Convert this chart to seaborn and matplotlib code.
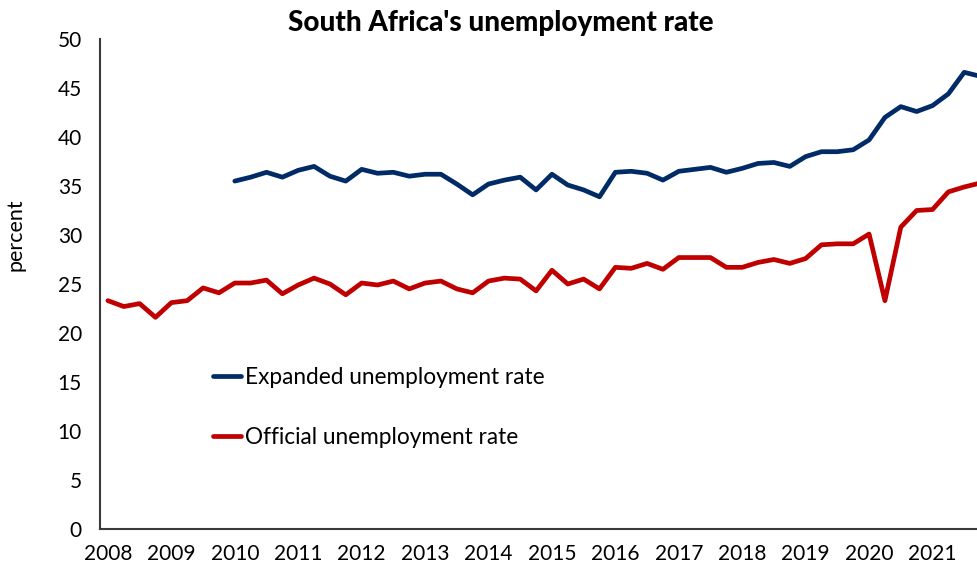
import matplotlib
matplotlib.use("Agg")
import matplotlib.pyplot as plt
import numpy as np
import pandas as pd
import seaborn as sns

# Quarterly labour-force survey rates, 2008Q1 - 2021Q4
years = list(range(2008, 2022))
quarters = [f"{y}Q{q}" for y in years for q in range(1, 5)]

official = [
    23.3, 22.7, 23.0, 21.6,
    23.1, 23.3, 24.6, 24.1,
    25.1, 25.1, 25.4, 24.0,
    24.9, 25.6, 25.0, 23.9,
    25.1, 24.9, 25.3, 24.5,
    25.1, 25.3, 24.5, 24.1,
    25.3, 25.6, 25.5, 24.3,
    26.4, 25.0, 25.5, 24.5,
    26.7, 26.6, 27.1, 26.5,
    27.7, 27.7, 27.7, 26.7,
    26.7, 27.2, 27.5, 27.1,
    27.6, 29.0, 29.1, 29.1,
    30.1, 23.3, 30.8, 32.5,
    32.6, 34.4, 34.9, 35.3,
]

# Expanded definition is only published from 2010Q1
expanded = [np.nan] * 8 + [
    35.5, 35.9, 36.4, 35.9,
    36.6, 37.0, 36.0, 35.5,
    36.7, 36.3, 36.4, 36.0,
    36.2, 36.2, 35.2, 34.1,
    35.2, 35.6, 35.9, 34.6,
    36.2, 35.1, 34.6, 33.9,
    36.4, 36.5, 36.3, 35.6,
    36.5, 36.7, 36.9, 36.4,
    36.8, 37.3, 37.4, 37.0,
    38.0, 38.5, 38.5, 38.7,
    39.7, 42.0, 43.1, 42.6,
    43.2, 44.4, 46.6, 46.2,
]

series_names = ["Expanded unemployment rate", "Official unemployment rate"]
colors = {"Expanded unemployment rate": "#002B66", "Official unemployment rate": "#C00000"}

df = pd.DataFrame({
    "quarter": quarters,
    "idx": np.arange(len(quarters)),
    series_names[0]: expanded,
    series_names[1]: official,
})
long = df.melt(id_vars=["quarter", "idx"], value_vars=series_names,
               var_name="series", value_name="rate").dropna()

sns.set_theme(style="white")
plt.rcParams["font.family"] = ["Lato", "DejaVu Sans"]
plt.rcParams["text.color"] = "black"
plt.rcParams["axes.labelcolor"] = "black"

fig = plt.figure(figsize=(9.78, 5.72), dpi=100)
ax = fig.add_axes([100 / 978, 43 / 572, 888 / 978, 490 / 572])

sns.lineplot(data=long, x="idx", y="rate", hue="series", hue_order=series_names,
             palette=colors, linewidth=3.4, ax=ax, legend=True)

ax.set_xlim(-0.5, 55.5)
ax.set_ylim(0, 50)
ax.set_yticks(range(0, 51, 5))
ax.set_xticks([i for i, q in enumerate(quarters) if q.endswith("Q1")])
ax.set_xticklabels([str(y) for y in years])
ax.tick_params(axis="both", length=0, labelsize=15, colors="black")
ax.tick_params(axis="y", pad=13)
ax.tick_params(axis="x", pad=11)

for side in ["top", "right"]:
    ax.spines[side].set_visible(False)
for side in ["left", "bottom"]:
    ax.spines[side].set_color("#3a3a3a")
    ax.spines[side].set_linewidth(1.5)

ax.set_xlabel("")
ax.set_ylabel("percent", fontsize=15.5, color="black")
ax.yaxis.set_label_coords(-0.084, 0.60)

fig.text(0.512, 0.960, "South Africa's unemployment rate", ha="center", va="center",
         fontsize=20, fontweight=900, color="black")

leg = ax.legend(loc="upper left", bbox_to_anchor=(0.117, 0.35), frameon=False,
                fontsize=16.3, handlelength=1.25, handletextpad=0.18, labelspacing=1.75,
                borderaxespad=0)
for text in leg.get_texts():
    text.set_color("black")
for line in leg.get_lines():
    line.set_linewidth(3.4)

fig.savefig("out.png", dpi=100)
